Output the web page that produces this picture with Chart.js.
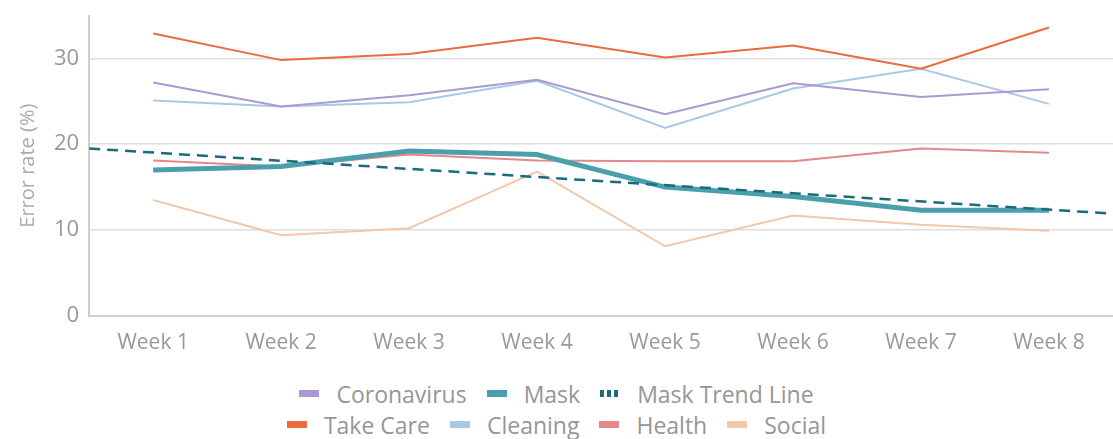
<!DOCTYPE html>
<html>
<head>
<meta charset="utf-8">
<script src="https://cdn.jsdelivr.net/npm/chart.js@4"></script>
<style>
  body { margin: 0; background: #fff; font-family: "Open Sans", Lato, sans-serif; }
  #wrap { position: relative; width: 1113px; height: 363px; }
  #legend { width: 1113px; margin-top: 15px; color: #969696; font-size: 23px; }
  .row { display: flex; justify-content: center; height: 31px; align-items: center; }
  .item { display: flex; align-items: center; margin: 0 10px; }
  .box { width: 20px; height: 7px; margin-right: 17px; }
</style>
</head>
<body>
<div id="wrap"><canvas id="graph"></canvas></div>
<div id="legend"></div>
<script>
const weeks = [1, 2, 3, 4, 5, 6, 7, 8];
const weekLabels = ["Week 1", "Week 2", "Week 3", "Week 4", "Week 5", "Week 6", "Week 7", "Week 8"];

const coronavirus = [27.2, 24.4, 25.7, 27.5, 23.5, 27.1, 25.5, 26.4];
const mask = [17.0, 17.4, 19.2, 18.8, 15.0, 13.9, 12.3, 12.3];
const takeCare = [32.9, 29.8, 30.5, 32.4, 30.1, 31.5, 28.8, 33.6];
const cleaning = [25.1, 24.4, 24.9, 27.4, 21.9, 26.5, 28.8, 24.7];
const health = [18.1, 17.4, 18.8, 18.1, 18.0, 18.0, 19.5, 19.0];
const social = [13.5, 9.4, 10.2, 16.8, 8.1, 11.7, 10.6, 9.9];

// trend line runs across the whole axis, from 0.5 to 8.5
const trendX = [0.5, 8.5];
const trendY = [19.5, 11.9];

function pts(xs, ys) {
    return xs.map((x, i) => ({x: x, y: ys[i]}));
}

const graphRef = document.getElementById("graph");

const chart = new Chart(graphRef, {
    type: "line",
    data: {
        datasets: [
            {label: "Coronavirus", data: pts(weeks, coronavirus), borderColor: "#a99ad6", backgroundColor: "#a99ad6", borderWidth: 2, order: 4},
            {label: "Mask", data: pts(weeks, mask), borderColor: "#4b9fad", backgroundColor: "#4b9fad", borderWidth: 5, order: 1},
            {label: "Mask Trend Line", data: pts(trendX, trendY), borderColor: "#1c6a7a", backgroundColor: "#1c6a7a", borderWidth: 2.5, borderDash: [11, 7], order: 0},
            {label: "Take Care", data: pts(weeks, takeCare), borderColor: "#ec6a3d", backgroundColor: "#ec6a3d", borderWidth: 2, order: 3},
            {label: "Cleaning", data: pts(weeks, cleaning), borderColor: "#a9c9e3", backgroundColor: "#a9c9e3", borderWidth: 2, order: 5},
            {label: "Health", data: pts(weeks, health), borderColor: "#e4878d", backgroundColor: "#e4878d", borderWidth: 2, order: 2},
            {label: "Social", data: pts(weeks, social), borderColor: "#f2c8aa", backgroundColor: "#f2c8aa", borderWidth: 2, order: 6},
        ],
    },
    options: {
        responsive: true,
        maintainAspectRatio: false,
        animation: false,
        elements: {point: {radius: 0}, line: {tension: 0}},
        layout: {padding: {top: 8, right: 0, left: 12}},
        plugins: {legend: {display: false}, tooltip: {enabled: false}},
        scales: {
            x: {
                type: "linear",
                min: 0.5,
                max: 8.5,
                grid: {display: false},
                border: {color: "#cfcfcf", width: 2},
                afterBuildTicks: (s) => { s.ticks = weeks.map(v => ({value: v})); },
                ticks: {
                    padding: 7,
                    color: "#999",
                    autoSkip: false,
                    maxRotation: 0,
                    font: {family: "Open Sans", size: 21},
                    callback: (v) => weekLabels[weeks.indexOf(Math.round(v))],
                },
            },
            y: {
                min: 0,
                max: 35,
                grid: {color: "#dedede", lineWidth: 1.5, drawTicks: false},
                border: {color: "#cfcfcf", width: 2},
                ticks: {stepSize: 10, includeBounds: false, padding: 10, color: "#999", font: {family: "Open Sans", size: 22, lineHeight: 0.5}},
                title: {display: true, text: "Error rate (%)", color: "#aaa", font: {family: "Open Sans", size: 20}},
            },
        },
    },
});

// html legend, two centred rows
const rows = [[0, 1, 2], [3, 4, 5, 6]];
const legendRef = document.getElementById("legend");
rows.forEach(r => {
    const row = document.createElement("div");
    row.className = "row";
    r.forEach(i => {
        const ds = chart.data.datasets[i];
        const item = document.createElement("div");
        item.className = "item";
        const box = document.createElement("span");
        box.className = "box";
        if (ds.borderDash) {
            box.style.background = "repeating-linear-gradient(90deg, " + ds.borderColor + " 0 4px, transparent 4px 7px)";
        } else {
            box.style.background = ds.borderColor;
        }
        const text = document.createElement("span");
        text.textContent = ds.label;
        item.appendChild(box);
        item.appendChild(text);
        row.appendChild(item);
    });
    legendRef.appendChild(row);
});
</script>
</body>
</html>
